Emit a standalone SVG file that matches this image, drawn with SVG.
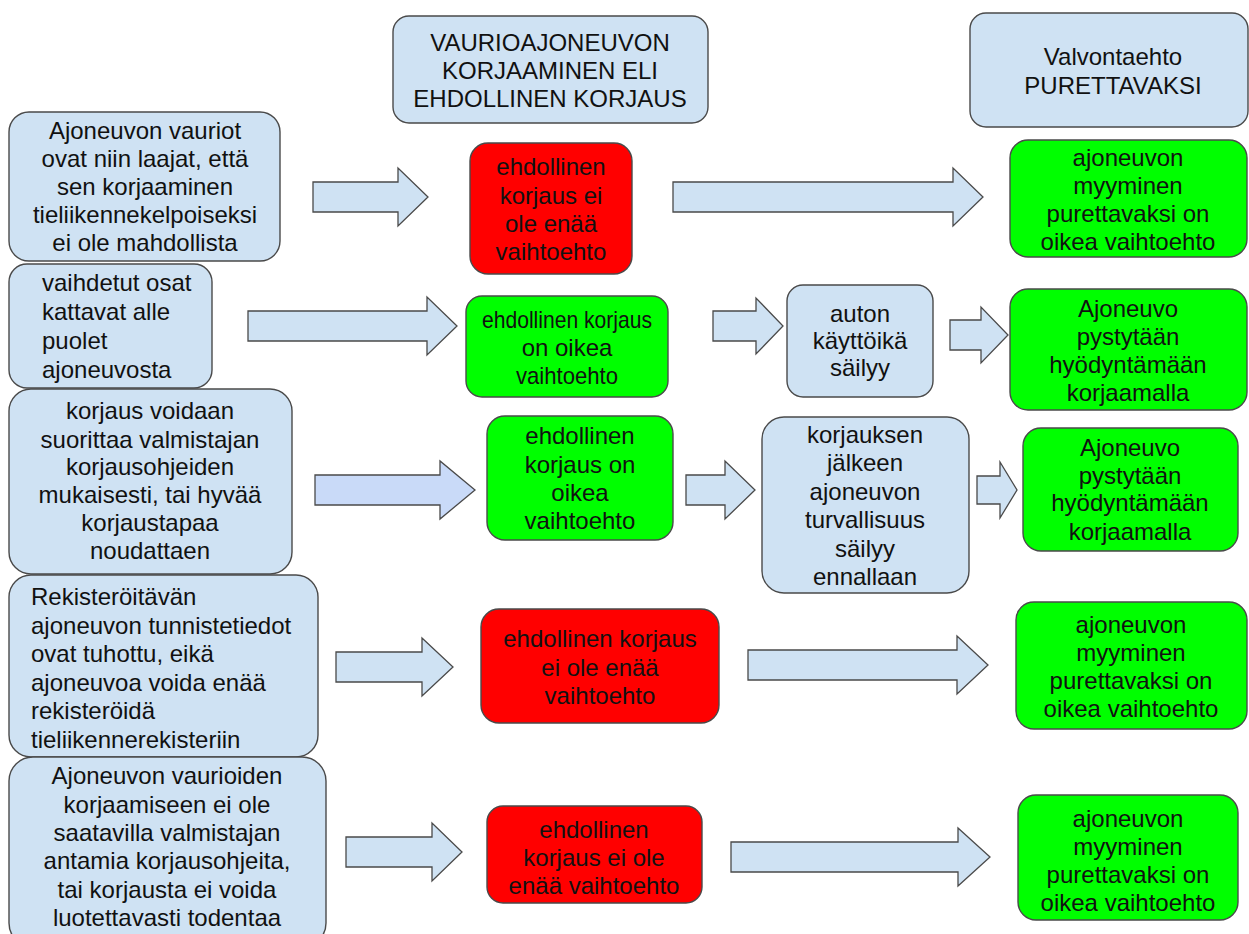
<svg xmlns="http://www.w3.org/2000/svg" width="1249" height="934" viewBox="0 0 1249 934">
<style>
.box{stroke:#4a4a4a;stroke-width:1.4}
.blue{fill:#cfe2f3}
.red{fill:#ff0000}
.green{fill:#00ff00}
.arr{fill:#cfe2f3;stroke:#4a4a4a;stroke-width:1.3;stroke-linejoin:miter}
.arr2{fill:#c9daf8;stroke:#4a4a4a;stroke-width:1.3}
text{font-family:"Liberation Sans",Arial,sans-serif;font-size:24px;fill:#111}
.c{text-anchor:middle}
</style>
<rect width="1249" height="934" fill="#ffffff"/>
<g id="connectors">
<path class="arr" d="M313,182 H398 V168 L428,197 L398,226 V212 H313 Z"/>
<path class="arr" d="M673,182 H953 V168 L983,197 L953,226 V212 H673 Z"/>
<path class="arr" d="M248,311 H427 V297 L457,326 L427,355 V341 H248 Z"/>
<path class="arr" d="M713,311 H756 V298 L783,326 L756,354 V341 H713 Z"/>
<path class="arr" d="M950,320 H981 V307 L1008,335 L981,363 V350 H950 Z"/>
<path class="arr2" d="M315,475 H440 V461 L475,490 L440,519 V505 H315 Z"/>
<path class="arr" d="M686,475 H725 V461 L755,490 L725,519 V505 H686 Z"/>
<path class="arr" d="M977,476 H1000 V462 L1017,490 L1000,518 V504 H977 Z"/>
<path class="arr" d="M336,652 H422 V638 L453,667 L422,696 V682 H336 Z"/>
<path class="arr" d="M748,650 H957 V636 L988,665 L957,694 V680 H748 Z"/>
<path class="arr" d="M346,837 H432 V823 L462,852 L432,881 V867 H346 Z"/>
<path class="arr" d="M731,842 H958 V828 L990,857 L958,886 V872 H731 Z"/>
</g>
<g id="h1">
<rect class="box blue" x="393" y="16" width="315" height="107" rx="16"/>
<text class="c" x="550" y="51">VAURIOAJONEUVON</text>
<text class="c" x="550" y="79">KORJAAMINEN ELI</text>
<text class="c" x="550" y="107">EHDOLLINEN KORJAUS</text>
</g>
<g id="h2">
<rect class="box blue" x="970" y="13" width="278" height="114" rx="16"/>
<text class="c" x="1113" y="65">Valvontaehto</text>
<text class="c" x="1113" y="94">PURETTAVAKSI</text>
</g>
<g id="a1">
<rect class="box blue" x="9" y="112" width="271" height="149" rx="20"/>
<text class="c" x="145" y="139">Ajoneuvon vauriot</text>
<text class="c" x="145" y="167">ovat niin laajat, että</text>
<text class="c" x="145" y="195">sen korjaaminen</text>
<text class="c" x="145" y="223">tieliikennekelpoiseksi</text>
<text class="c" x="145" y="251">ei ole mahdollista</text>
</g>
<g id="r1">
<rect class="box red" x="470" y="143" width="162" height="131" rx="18"/>
<text class="c" x="551" y="175">ehdollinen</text>
<text class="c" x="551" y="204">korjaus ei</text>
<text class="c" x="551" y="232">ole enää</text>
<text class="c" x="551" y="260">vaihtoehto</text>
</g>
<g id="g1">
<rect class="box green" x="1010" y="140" width="237" height="117" rx="18"/>
<text class="c" x="1128" y="166">ajoneuvon</text>
<text class="c" x="1128" y="194">myyminen</text>
<text class="c" x="1128" y="222">purettavaksi on</text>
<text class="c" x="1128" y="250">oikea vaihtoehto</text>
</g>
<g id="a2">
<rect class="box blue" x="9" y="264" width="203" height="124" rx="18"/>
<text x="42" y="291">vaihdetut osat</text>
<text x="42" y="320">kattavat alle</text>
<text x="42" y="349">puolet</text>
<text x="42" y="378">ajoneuvosta</text>
</g>
<g id="g2">
<rect class="box green" x="466" y="296" width="202" height="101" rx="16"/>
<text class="c" x="567" y="328" textLength="170" lengthAdjust="spacingAndGlyphs">ehdollinen korjaus</text>
<text class="c" x="567" y="356">on oikea</text>
<text class="c" x="567" y="384" textLength="102" lengthAdjust="spacingAndGlyphs">vaihtoehto</text>
</g>
<g id="b2">
<rect class="box blue" x="787" y="285" width="146" height="112" rx="16"/>
<text class="c" x="860" y="322">auton</text>
<text class="c" x="860" y="349">käyttöikä</text>
<text class="c" x="860" y="376">säilyy</text>
</g>
<g id="g2b">
<rect class="box green" x="1010" y="289" width="237" height="121" rx="18"/>
<text class="c" x="1128" y="317">Ajoneuvo</text>
<text class="c" x="1128" y="345">pystytään</text>
<text class="c" x="1128" y="373">hyödyntämään</text>
<text class="c" x="1128" y="401">korjaamalla</text>
</g>
<g id="a3">
<rect class="box blue" x="9" y="389" width="283" height="185" rx="22"/>
<text class="c" x="150" y="419">korjaus voidaan</text>
<text class="c" x="150" y="448">suorittaa valmistajan</text>
<text class="c" x="150" y="475">korjausohjeiden</text>
<text class="c" x="150" y="503">mukaisesti, tai hyvää</text>
<text class="c" x="150" y="531">korjaustapaa</text>
<text class="c" x="150" y="559">noudattaen</text>
</g>
<g id="g3">
<rect class="box green" x="487" y="416" width="186" height="124" rx="18"/>
<text class="c" x="580" y="444">ehdollinen</text>
<text class="c" x="580" y="473">korjaus on</text>
<text class="c" x="580" y="501">oikea</text>
<text class="c" x="580" y="529">vaihtoehto</text>
</g>
<g id="b3">
<rect class="box blue" x="762" y="417" width="207" height="176" rx="22"/>
<text class="c" x="865" y="443">korjauksen</text>
<text class="c" x="865" y="471">jälkeen</text>
<text class="c" x="865" y="500">ajoneuvon</text>
<text class="c" x="865" y="528">turvallisuus</text>
<text class="c" x="865" y="557">säilyy</text>
<text class="c" x="865" y="585">ennallaan</text>
</g>
<g id="g3b">
<rect class="box green" x="1023" y="428" width="215" height="123" rx="18"/>
<text class="c" x="1130" y="456">Ajoneuvo</text>
<text class="c" x="1130" y="484">pystytään</text>
<text class="c" x="1130" y="511">hyödyntämään</text>
<text class="c" x="1130" y="540">korjaamalla</text>
</g>
<g id="a4">
<rect class="box blue" x="9" y="575" width="309" height="182" rx="22"/>
<text x="31" y="605">Rekisteröitävän</text>
<text x="31" y="634">ajoneuvon tunnistetiedot</text>
<text x="31" y="662">ovat tuhottu, eikä</text>
<text x="31" y="691">ajoneuvoa voida enää</text>
<text x="31" y="719">rekisteröidä</text>
<text x="31" y="748">tieliikennerekisteriin</text>
</g>
<g id="r4">
<rect class="box red" x="481" y="609" width="238" height="114" rx="18"/>
<text class="c" x="600" y="647">ehdollinen korjaus</text>
<text class="c" x="600" y="676">ei ole enää</text>
<text class="c" x="600" y="704">vaihtoehto</text>
</g>
<g id="g4">
<rect class="box green" x="1016" y="602" width="231" height="127" rx="18"/>
<text class="c" x="1131" y="633">ajoneuvon</text>
<text class="c" x="1131" y="661">myyminen</text>
<text class="c" x="1131" y="689">purettavaksi on</text>
<text class="c" x="1131" y="717">oikea vaihtoehto</text>
</g>
<g id="a5">
<rect class="box blue" x="9" y="757" width="317" height="190" rx="24"/>
<text class="c" x="167" y="784">Ajoneuvon vaurioiden</text>
<text class="c" x="167" y="813">korjaamiseen ei ole</text>
<text class="c" x="167" y="841">saatavilla valmistajan</text>
<text class="c" x="167" y="869">antamia korjausohjeita,</text>
<text class="c" x="167" y="898">tai korjausta ei voida</text>
<text class="c" x="167" y="926">luotettavasti todentaa</text>
</g>
<g id="r5">
<rect class="box red" x="487" y="806" width="215" height="97" rx="16"/>
<text class="c" x="594" y="838">ehdollinen</text>
<text class="c" x="594" y="866">korjaus ei ole</text>
<text class="c" x="594" y="894">enää vaihtoehto</text>
</g>
<g id="g5">
<rect class="box green" x="1018" y="795" width="220" height="125" rx="18"/>
<text class="c" x="1128" y="827">ajoneuvon</text>
<text class="c" x="1128" y="855">myyminen</text>
<text class="c" x="1128" y="883">purettavaksi on</text>
<text class="c" x="1128" y="911">oikea vaihtoehto</text>
</g>
</svg>
